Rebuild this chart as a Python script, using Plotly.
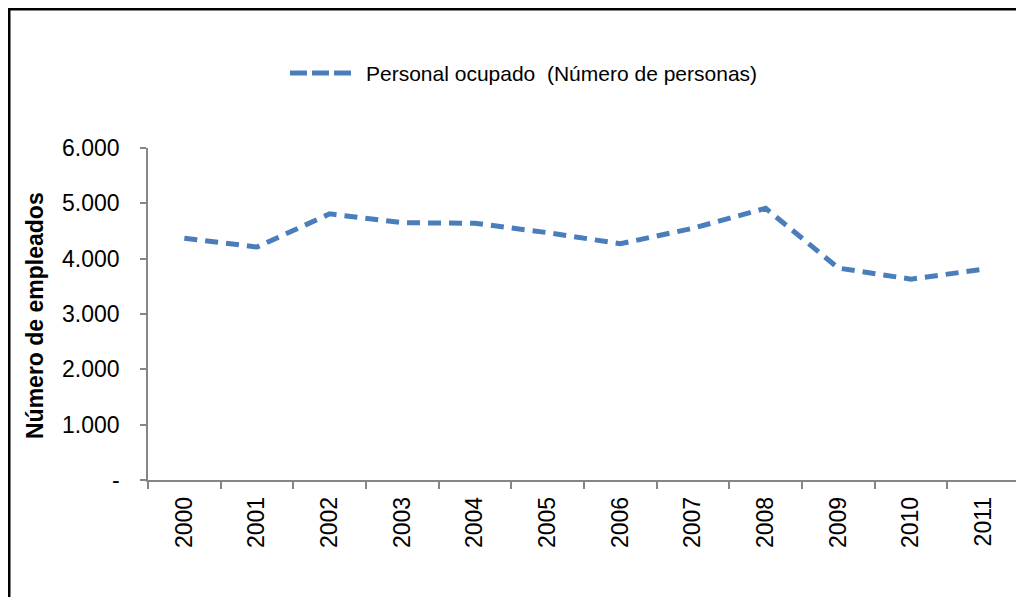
import plotly.graph_objects as go

years = ["2000", "2001", "2002", "2003", "2004", "2005", "2006", "2007", "2008", "2009", "2010", "2011"]
empleados = [4370, 4210, 4810, 4650, 4640, 4470, 4270, 4550, 4910, 3830, 3630, 3810]
y_tickvals = [0, 1000, 2000, 3000, 4000, 5000, 6000]
y_ticktext = ["-", "1.000", "2.000", "3.000", "4.000", "5.000", "6.000"]
series_name = "Personal ocupado  (Número de personas)"
y_title = "Número de empleados"

FONT = "Liberation Sans, Arial, sans-serif"
AXIS = "#868686"
BLUE = "#4a7ebb"

# page has an 8px body margin; figure sized to fit the 1024x597 window
OFF = 8
W, H = 1024 - OFF, 597 - OFF
L, R, T, B = 148 - OFF, 4, 148 - OFF, 117
pw, ph = W - L - R, H - T - B

def px2x(px):  # page pixel -> paper x
    return (px - OFF - L) / pw

def py2y(py):  # page pixel -> paper y
    return (H - B - (py - OFF)) / ph

fig = go.Figure()
fig.add_trace(go.Scatter(
    x=years, y=empleados, mode="lines", name=series_name, showlegend=False,
    line=dict(color=BLUE, width=5, dash="13px,8px"),
))
# legend entry (text only); the long Excel-style key sample is drawn as a shape below
fig.add_trace(go.Scatter(
    x=[None], y=[None], mode="lines", name=series_name, showlegend=True,
    line=dict(color="rgba(0,0,0,0)", width=0),
))

fig.update_layout(
    width=W, height=H,
    margin=dict(l=L, r=R, t=T, b=B),
    paper_bgcolor="white", plot_bgcolor="white",
    font=dict(family=FONT, color="black"),
    showlegend=True,
    legend=dict(
        orientation="h", x=px2x(326), xanchor="left", y=py2y(73), yanchor="middle",
        font=dict(size=21, family=FONT, color="black"),
        bgcolor="rgba(0,0,0,0)",
    ),
    xaxis=dict(
        type="category", showgrid=False, zeroline=False,
        showline=True, linecolor=AXIS, linewidth=1.5,
        ticks="outside", ticklen=7, tickcolor=AXIS, tickwidth=1.5,
        tickson="boundaries", tickangle=-90,
        tickfont=dict(size=23, family=FONT, color="black"),
        ticklabelstandoff=6,
        range=[-0.5, 11.5],
    ),
    yaxis=dict(
        range=[0, 6000], tickvals=y_tickvals, ticktext=y_ticktext,
        showgrid=False, zeroline=False,
        showline=True, linecolor=AXIS, linewidth=1.5,
        ticks="outside", ticklen=6, tickcolor=AXIS, tickwidth=1.5,
        tickfont=dict(size=23, family=FONT, color="black"),
        ticklabelstandoff=16,
    ),
    annotations=[dict(
        text="<b>" + y_title + "</b>", xref="paper", yref="paper",
        x=px2x(35), y=py2y(316), xanchor="center", yanchor="middle",
        textangle=-90, showarrow=False,
        font=dict(size=23, family=FONT, color="black"),
    )],
    shapes=[
        dict(
            type="rect", xref="paper", yref="paper",
            x0=px2x(OFF + 1.25), x1=px2x(1060), y0=py2y(640), y1=py2y(OFF + 1.25),
            line=dict(color="black", width=2.5), fillcolor="rgba(0,0,0,0)", layer="below",
        ),
        dict(
            type="line", xref="paper", yref="paper",
            x0=px2x(290), x1=px2x(352), y0=py2y(73), y1=py2y(73),
            line=dict(color=BLUE, width=5, dash="17px,5px"),
        ),
    ],
)

fig.write_html("out.html")
